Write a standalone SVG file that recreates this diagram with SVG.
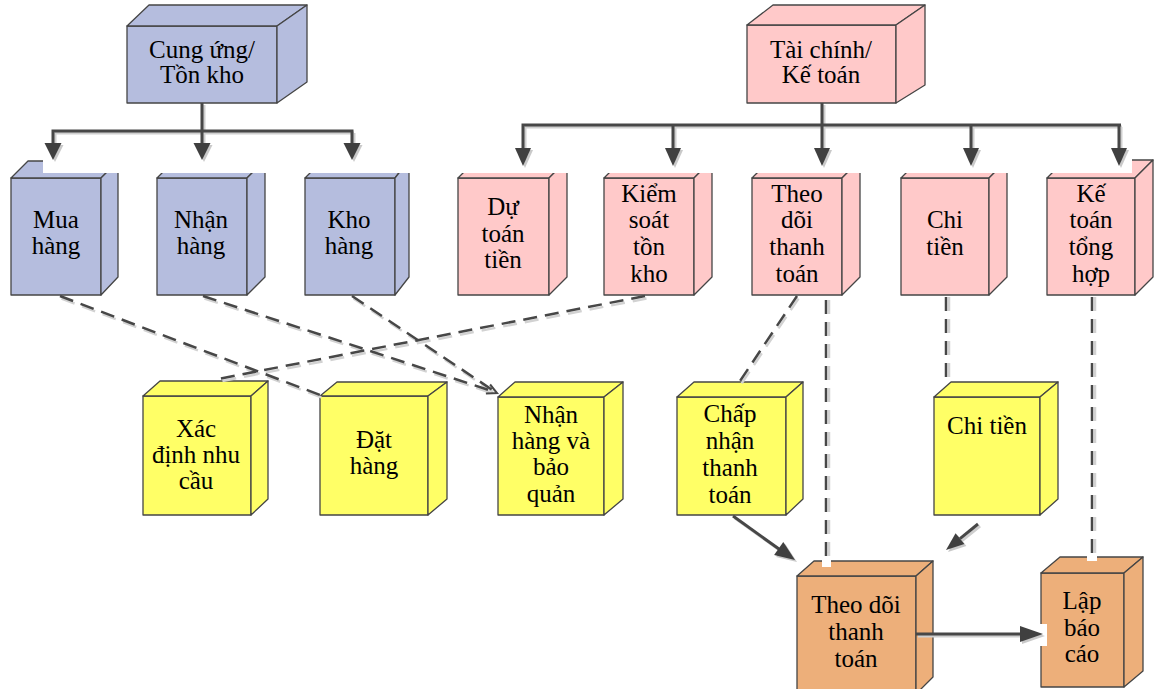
<svg xmlns="http://www.w3.org/2000/svg" width="1154" height="689" viewBox="0 0 1154 689">
<defs>
<style>
.t{font-family:"Liberation Serif","Times New Roman",serif;font-size:25px;fill:#000;text-anchor:middle}
.bl{fill:#b5bdde;stroke:#454545;stroke-width:1.3;stroke-linejoin:round}
.pk{fill:#ffc9c9;stroke:#454545;stroke-width:1.3;stroke-linejoin:round}
.ye{fill:#ffff66;stroke:#454545;stroke-width:1.3;stroke-linejoin:round}
.or{fill:#edaf7a;stroke:#454545;stroke-width:1.3;stroke-linejoin:round}
.ln{fill:none;stroke:#474747;stroke-width:3}
.lns{fill:none;stroke:#cfcfcf;stroke-width:3}
.ah{fill:#404040}
.ahs{fill:#c9c9c9}
.ds{fill:none;stroke:#474747;stroke-width:2.5;stroke-dasharray:14 8}
.dss{fill:none;stroke:#d2d2d2;stroke-width:2.5;stroke-dasharray:14 8}
.wh{fill:#fff}
</style>
</defs>
<rect width="1154" height="689" fill="#fff"/>

<!-- Top nodes -->
<g id="cung-ung">
<rect class="bl" x="127" y="26" width="150" height="77"/>
<polygon class="bl" points="127,26 149,5 307,5 277,26"/>
<polygon class="bl" points="277,26 307,5 307,82 277,103"/>
<text class="t" x="202" y="58">Cung ứng/</text>
<text class="t" x="202" y="83">Tồn kho</text>
</g>
<g id="tai-chinh">
<rect class="pk" x="747" y="25" width="149" height="78"/>
<polygon class="pk" points="747,25 773,5 925,5 896,25"/>
<polygon class="pk" points="896,25 925,5 925,85 896,103"/>
<text class="t" x="821" y="58">Tài chính/</text>
<text class="t" x="821" y="83">Kế toán</text>
</g>

<!-- Second row: blue -->
<g id="mua-hang">
<rect class="bl" x="11" y="178" width="90" height="117"/>
<polygon class="bl" points="11,178 28,161 118,161 101,178"/>
<polygon class="bl" points="101,178 118,161 118,277 101,295"/>
<text class="t" x="56" y="228">Mua</text>
<text class="t" x="56" y="254">hàng</text>
</g>
<g id="nhan-hang">
<rect class="bl" x="157" y="178" width="90" height="117"/>
<polygon class="bl" points="157,178 175,160 265,160 247,178"/>
<polygon class="bl" points="247,178 265,160 265,277 247,295"/>
<text class="t" x="201" y="228">Nhận</text>
<text class="t" x="201" y="254">hàng</text>
</g>
<g id="kho-hang">
<rect class="bl" x="305" y="178" width="90" height="117"/>
<polygon class="bl" points="305,178 323,160 409,160 395,178"/>
<polygon class="bl" points="395,178 409,160 409,277 395,295"/>
<text class="t" x="349" y="228">Kho</text>
<text class="t" x="349" y="254">hàng</text>
</g>

<!-- Second row: pink -->
<g id="du-toan-tien">
<rect class="pk" x="458" y="178" width="91" height="117"/>
<polygon class="pk" points="458,178 476,160 567,160 549,178"/>
<polygon class="pk" points="549,178 567,160 567,277 549,295"/>
<text class="t" x="503" y="215">Dự</text>
<text class="t" x="503" y="242">toán</text>
<text class="t" x="503" y="268">tiền</text>
</g>
<g id="kiem-soat-ton-kho">
<rect class="pk" x="604" y="178" width="90" height="117"/>
<polygon class="pk" points="604,178 622,160 712,160 694,178"/>
<polygon class="pk" points="694,178 712,160 712,277 694,295"/>
<text class="t" x="649" y="202">Kiểm</text>
<text class="t" x="649" y="228">soát</text>
<text class="t" x="649" y="255">tồn</text>
<text class="t" x="649" y="282">kho</text>
</g>
<g id="theo-doi-thanh-toan-1">
<rect class="pk" x="752" y="178" width="90" height="117"/>
<polygon class="pk" points="752,178 770,160 860,160 842,178"/>
<polygon class="pk" points="842,178 860,160 860,277 842,295"/>
<text class="t" x="797" y="202">Theo</text>
<text class="t" x="797" y="228">dõi</text>
<text class="t" x="797" y="255">thanh</text>
<text class="t" x="797" y="282">toán</text>
</g>
<g id="chi-tien-1">
<rect class="pk" x="901" y="178" width="88" height="117"/>
<polygon class="pk" points="901,178 919,160 1007,160 989,178"/>
<polygon class="pk" points="989,178 1007,160 1007,277 989,295"/>
<text class="t" x="945" y="228">Chi</text>
<text class="t" x="945" y="255">tiền</text>
</g>
<g id="ke-toan-tong-hop">
<rect class="pk" x="1047" y="178" width="88" height="117"/>
<polygon class="pk" points="1047,178 1065,160 1153,160 1135,178"/>
<polygon class="pk" points="1135,178 1153,160 1153,277 1135,295"/>
<text class="t" x="1091" y="202">Kế</text>
<text class="t" x="1091" y="228">toán</text>
<text class="t" x="1091" y="255">tổng</text>
<text class="t" x="1091" y="282">hợp</text>
</g>

<!-- Third row: yellow -->
<g id="xac-dinh-nhu-cau">
<rect class="ye" x="143" y="396" width="108" height="119"/>
<polygon class="ye" points="143,396 160,381 268,381 251,396"/>
<polygon class="ye" points="251,396 268,381 268,499 251,515"/>
<text class="t" x="196" y="437">Xác</text>
<text class="t" x="196" y="463">định nhu</text>
<text class="t" x="196" y="489">cầu</text>
</g>
<g id="dat-hang">
<rect class="ye" x="320" y="396" width="108" height="119"/>
<polygon class="ye" points="320,396 337,382 447,382 428,396"/>
<polygon class="ye" points="428,396 447,382 447,499 428,515"/>
<text class="t" x="374" y="448">Đặt</text>
<text class="t" x="374" y="474">hàng</text>
</g>
<g id="nhan-hang-va-bao-quan">
<rect class="ye" x="498" y="397" width="106" height="118"/>
<polygon class="ye" points="498,397 515,382 623,382 604,397"/>
<polygon class="ye" points="604,397 623,382 623,499 604,515"/>
<text class="t" x="551" y="423">Nhận</text>
<text class="t" x="551" y="449">hàng và</text>
<text class="t" x="551" y="475">bảo</text>
<text class="t" x="551" y="502">quản</text>
</g>
<g id="chap-nhan-thanh-toan">
<rect class="ye" x="677" y="397" width="109" height="118"/>
<polygon class="ye" points="677,397 694,382 803,382 786,397"/>
<polygon class="ye" points="786,397 803,382 803,499 786,515"/>
<text class="t" x="730" y="422">Chấp</text>
<text class="t" x="730" y="449">nhận</text>
<text class="t" x="730" y="476">thanh</text>
<text class="t" x="730" y="503">toán</text>
</g>
<g id="chi-tien-2">
<rect class="ye" x="934" y="397" width="106" height="118"/>
<polygon class="ye" points="934,397 951,382 1058,382 1040,397"/>
<polygon class="ye" points="1040,397 1058,382 1058,499 1040,515"/>
<text class="t" x="987" y="434">Chi tiền</text>
</g>

<!-- Bottom row: orange -->
<g id="theo-doi-thanh-toan-2">
<rect class="or" x="797" y="576" width="119" height="120"/>
<polygon class="or" points="797,576 814,561 933,561 916,576"/>
<polygon class="or" points="916,576 933,561 933,677 916,694"/>
<text class="t" x="856" y="613">Theo dõi</text>
<text class="t" x="856" y="640">thanh</text>
<text class="t" x="856" y="667">toán</text>
</g>
<g id="lap-bao-cao">
<rect class="or" x="1041" y="573" width="83" height="114"/>
<polygon class="or" points="1041,573 1060,557 1143,557 1124,573"/>
<polygon class="or" points="1124,573 1143,557 1143,671 1124,687"/>
<text class="t" x="1082" y="609">Lập</text>
<text class="t" x="1082" y="636">báo</text>
<text class="t" x="1082" y="662">cáo</text>
</g>

<!-- Connectors -->
<g id="connectors">
<rect class="wh" x="43" y="136" width="380" height="37"/>
<rect class="wh" x="440" y="136" width="692" height="37"/>
<rect class="wh" x="822" y="557" width="9" height="10"/>
<rect class="wh" x="1087" y="553" width="10" height="8"/>
<rect class="wh" x="1039" y="624" width="8" height="22"/>

<!-- left bus -->
<g transform="translate(2,2)">
<path class="lns" d="M202,103 V143 M53,131 H352 M53,131 V143 M352,131 V143"/>
<polygon class="ahs" points="44.5,143 61.5,143 53,160"/>
<polygon class="ahs" points="193.5,143 210.5,143 202,160"/>
<polygon class="ahs" points="343.5,143 360.5,143 352,160"/>
</g>
<path class="ln" d="M202,103 V143 M51.5,131 H353.5 M53,131 V143 M352,131 V143"/>
<polygon class="ah" points="44.5,143 61.5,143 53,160"/>
<polygon class="ah" points="193.5,143 210.5,143 202,160"/>
<polygon class="ah" points="343.5,143 360.5,143 352,160"/>

<!-- right bus -->
<g transform="translate(2,2)">
<path class="lns" d="M822,103 V148 M523,125 H1120 M523,125 V148 M673,125 V148 M971,125 V148 M1119,125 V148"/>
<polygon class="ahs" points="515,148 531,148 523,166"/>
<polygon class="ahs" points="665,148 681,148 673,166"/>
<polygon class="ahs" points="814,148 830,148 822,166"/>
<polygon class="ahs" points="963,148 979,148 971,166"/>
<polygon class="ahs" points="1111,148 1127,148 1119,166"/>
</g>
<path class="ln" d="M822,103 V148 M521.5,125 H1121 M523,125 V148 M673,125 V148 M971,125 V148 M1119,125 V148"/>
<polygon class="ah" points="515,148 531,148 523,166"/>
<polygon class="ah" points="665,148 681,148 673,166"/>
<polygon class="ah" points="814,148 830,148 822,166"/>
<polygon class="ah" points="963,148 979,148 971,166"/>
<polygon class="ah" points="1111,148 1127,148 1119,166"/>

<!-- dashed links (shadows) -->
<g transform="translate(1.5,2.5)">
<path class="dss" d="M60,296 L320,395"/>
<path class="dss" d="M203,296 L495,392"/>
<path class="dss" d="M352,296 L494,391"/>
<path class="dss" d="M645,296 L218,379"/>
<path class="dss" d="M797,296 L740,381"/>
</g>
<g transform="translate(3,0)">
<path class="dss" d="M826,300 V556"/>
<path class="dss" d="M946,297 V377"/>
<path class="dss" d="M1092,297 V553"/>
</g>
<path class="ds" d="M60,296 L320,395"/>
<path class="ds" d="M203,296 L495,392"/>
<path class="ds" d="M352,296 L494,391"/>
<path class="ds" d="M645,296 L218,379"/>
<path class="ds" d="M797,296 L740,381"/>
<path class="ds" d="M826,300 V556"/>
<path class="ds" d="M946,297 V377"/>
<path class="ds" d="M1092,297 V553"/>
<path fill="none" stroke="#474747" stroke-width="2" d="M485.9,393.5 L497,393 L490.1,384.5"/>

<!-- solid arrows -->
<g transform="translate(2,2)">
<path class="lns" d="M733,516 L779,549"/>
<polygon class="ahs" points="774.1,554.9 783.3,541.9 795,560"/>
<path class="lns" d="M978,524 L960,538.6"/>
<polygon class="ahs" points="964.4,544 955.6,533.2 946,550"/>
<path class="lns" d="M916,634 H1022"/>
<polygon class="ahs" points="1020,626 1020,642 1043,634"/>
</g>
<path class="ln" d="M733,516 L779,549"/>
<polygon class="ah" points="774.1,554.9 783.3,541.9 795,560"/>
<path class="ln" d="M978,524 L960,538.6"/>
<polygon class="ah" points="964.4,544 955.6,533.2 946,550"/>
<path class="ln" d="M916,634 H1022"/>
<polygon class="ah" points="1020,626 1020,642 1043,634"/>
</g>
</svg>
